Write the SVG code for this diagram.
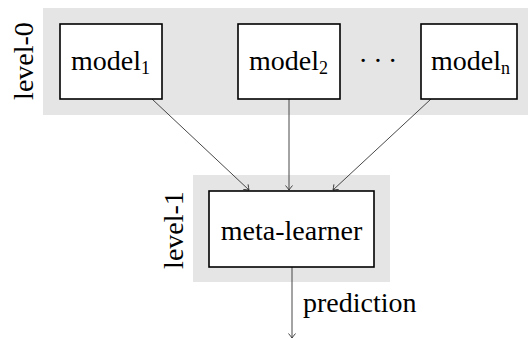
<svg xmlns="http://www.w3.org/2000/svg" width="528" height="339" viewBox="0 0 528 339">
<style>
.band{fill:#e5e5e5;stroke:none}
.box{fill:#fff;stroke:#000;stroke-width:1.6}
text{font-family:"Liberation Serif","DejaVu Serif",serif;font-size:28px;fill:#000}
.sub{font-size:18px}
.edge{fill:none;stroke:#333;stroke-width:0.9;marker-end:url(#arr)}
</style>
<defs>
<marker id="arr" viewBox="-6 -4 8 8" refX="0" refY="0" markerWidth="8" markerHeight="8" markerUnits="userSpaceOnUse" orient="auto">
<path d="M-4.5,-3.5 Q-1.5,-1 0,0 Q-1.5,1 -4.5,3.5" fill="none" stroke="#333" stroke-width="0.9"/>
</marker>
</defs>
<g id="level0">
<rect class="band" x="43" y="8" width="485" height="107"/>
<text transform="translate(33,61) rotate(-90)" text-anchor="middle">level-0</text>
</g>
<g id="level1">
<rect class="band" x="193" y="175" width="197" height="107"/>
<text transform="translate(183,230) rotate(-90)" text-anchor="middle">level-1</text>
</g>
<g id="connectors">
<line class="edge" x1="152" y1="99" x2="249" y2="190"/>
<line class="edge" x1="289" y1="99" x2="289" y2="190"/>
<line class="edge" x1="431" y1="99" x2="333" y2="190"/>
<line class="edge" x1="292" y1="267" x2="292" y2="338"/>
</g>
<g id="model1">
<rect class="box" x="60" y="24" width="102" height="75"/>
<text x="71" y="70">model<tspan class="sub" dy="4">1</tspan></text>
</g>
<g id="model2">
<rect class="box" x="238" y="24" width="102" height="75"/>
<text x="249" y="70">model<tspan class="sub" dy="4">2</tspan></text>
</g>
<g id="dots">
<text x="377.5" y="70" text-anchor="middle" letter-spacing="-0.75">· · ·</text>
</g>
<g id="modeln">
<rect class="box" x="421" y="24" width="96" height="75"/>
<text x="431" y="70">model<tspan class="sub" dy="4">n</tspan></text>
</g>
<g id="meta">
<rect class="box" x="209" y="191" width="165" height="76"/>
<text x="291.5" y="240" text-anchor="middle">meta-learner</text>
</g>
<g id="prediction">
<text x="303" y="312">prediction</text>
</g>
</svg>
